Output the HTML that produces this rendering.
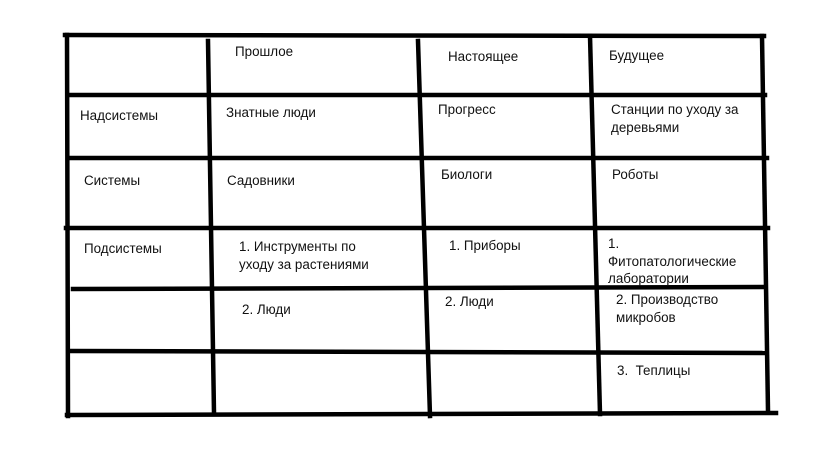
<!DOCTYPE html>
<html><head><meta charset="utf-8"><style>
html,body{margin:0;padding:0;background:#fff;width:819px;height:460px;overflow:hidden}
text{font-family:"Liberation Sans","DejaVu Sans",sans-serif;font-size:13.4px;fill:#111}
</style></head><body>
<svg width="819" height="460" xmlns="http://www.w3.org/2000/svg">
<g stroke="#000" stroke-width="4.5" stroke-linecap="square" fill="none">
<line x1="65" y1="35" x2="764" y2="36"/>
<line x1="67" y1="35" x2="68" y2="416"/>
<line x1="208" y1="41" x2="214" y2="413"/>
<line x1="418" y1="41" x2="430" y2="416"/>
<line x1="590" y1="36" x2="600" y2="414"/>
<line x1="762" y1="36" x2="768" y2="411"/>
<line x1="68" y1="95" x2="765" y2="95"/>
<line x1="68" y1="158" x2="767" y2="158"/>
<line x1="66" y1="228" x2="768" y2="228"/>
<line x1="73" y1="289" x2="764" y2="287"/>
<line x1="71" y1="351" x2="766" y2="353"/>
<line x1="67" y1="415" x2="776" y2="413"/>
</g>
<text x="235" y="56">Прошлое</text>
<text x="448" y="61">Настоящее</text>
<text x="609" y="60">Будущее</text>
<text x="80" y="120">Надсистемы</text>
<text x="226" y="117">Знатные люди</text>
<text x="438" y="114">Прогресс</text>
<text x="611" y="114">Станции по уходу за</text>
<text x="611" y="132">деревьями</text>
<text x="84" y="185">Системы</text>
<text x="227" y="185">Садовники</text>
<text x="441" y="179">Биологи</text>
<text x="612" y="179">Роботы</text>
<text x="84" y="253">Подсистемы</text>
<text x="239" y="251">1. Инструменты по</text>
<text x="239" y="269">уходу за растениями</text>
<text x="449" y="250">1. Приборы</text>
<text x="608" y="248">1.</text>
<text x="608" y="266">Фитопатологические</text>
<text x="608" y="283">лаборатории</text>
<text x="242" y="314">2. Люди</text>
<text x="445" y="306">2. Люди</text>
<text x="616" y="304">2. Производство</text>
<text x="616" y="322">микробов</text>
<text x="617" y="375" xml:space="preserve">3.  Теплицы</text>
</svg>
</body></html>
